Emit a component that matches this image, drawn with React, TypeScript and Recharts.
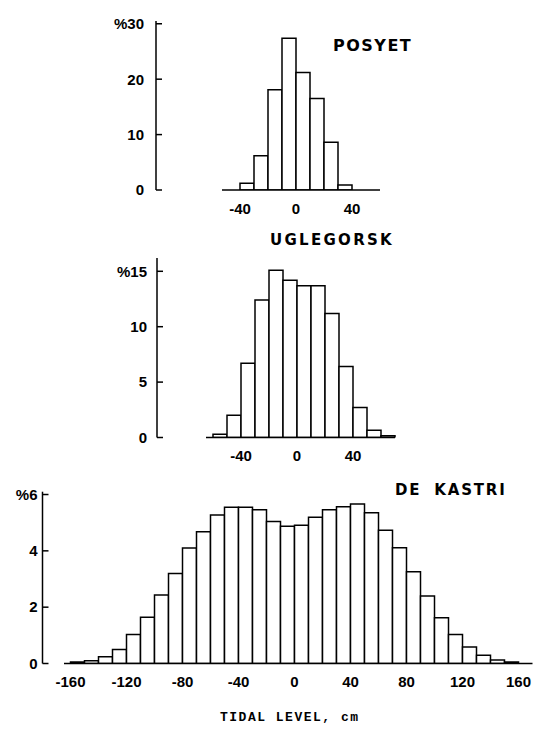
import React from 'react';
import { BarChart, Bar, XAxis, YAxis } from 'recharts';

// POSYET (bins: [start, start+10] cm, % frequency)
const posyetBinStarts = [-50, -40, -30, -20, -10, 0, 10, 20, 30, 40, 50];
const posyetValues = [0, 1.2, 6.2, 18.1, 27.4, 21.2, 16.5, 8.6, 0.9, 0, 0];
const posyetTicksX = [-40, 0, 40];
const posyetTicksY = [0, 10, 20, 30];

// UGLEGORSK
const uglegorskBinStarts = [-60, -50, -40, -30, -20, -10, 0, 10, 20, 30, 40, 50, 60];
const uglegorskValues = [0.3, 2.0, 6.7, 12.4, 15.1, 14.2, 13.7, 13.7, 11.2, 6.4, 2.7, 0.65, 0.15];
const uglegorskTicksX = [-40, 0, 40];
const uglegorskTicksY = [0, 5, 10, 15];

// DE KASTRI
const deKastriBinStarts = [
  -160, -150, -140, -130, -120, -110, -100, -90, -80, -70, -60, -50, -40, -30, -20, -10,
  0, 10, 20, 30, 40, 50, 60, 70, 80, 90, 100, 110, 120, 130, 140, 150, 160,
];
const deKastriValues = [
  0.05, 0.1, 0.24, 0.5, 1.03, 1.64, 2.43, 3.2, 4.1, 4.68, 5.27, 5.55, 5.55, 5.46, 5.04, 4.87,
  4.91, 5.19, 5.46, 5.57, 5.66, 5.35, 4.73, 4.11, 3.26, 2.4, 1.62, 1.03, 0.59, 0.29, 0.12, 0.05, 0,
];
const deKastriTicksX = [-160, -120, -80, -40, 0, 40, 80, 120, 160];
const deKastriTicksY = [0, 2, 4, 6];

const titles = ['POSYET', 'UGLEGORSK', 'DE KASTRI'];
const xAxisTitle = 'TIDAL LEVEL, cm';

const FONT = '"Liberation Sans", Arial, sans-serif';
const TITLE_FONT = '"DejaVu Sans", sans-serif';
const tickStyle = { fill: '#000', fontSize: 15, fontWeight: 'bold' as const, fontFamily: FONT };

// label drawn at the left edge of the bin whose start equals the tick value
function EdgeTick(props: any) {
  const { x, y, payload } = props;
  const off = payload && typeof payload.offset === 'number' ? payload.offset : 0;
  return (
    <text
      x={x - off}
      y={y}
      dy="0.71em"
      textAnchor="middle"
      fill={tickStyle.fill}
      fontSize={tickStyle.fontSize}
      fontWeight={tickStyle.fontWeight}
      fontFamily={tickStyle.fontFamily}
    >
      {String(payload.value)}
    </text>
  );
}

type HistProps = {
  top: number;
  height: number;
  plotTop: number;
  plotBottom: number;
  plotLeft: number;
  plotRight: number;
  padLeft: number;
  yAxisX: number;
  yAxisWidth: number;
  yTickMargin: number;
  binStarts: number[];
  values: number[];
  xTicks: number[];
  yDomain: [number, number];
  yTicks: number[];
  yTopLabel: number;
};

function Hist(p: HistProps) {
  const data = p.binStarts.map((s, i) => ({ bin: s, value: p.values[i] }));
  const xAxisHeight = 30;
  return (
    <div style={{ position: 'absolute', left: 0, top: p.top, width: 533, height: p.height }}>
      {/* histogram */}
      <div style={{ position: 'absolute', left: 0, top: 0 }}>
        <BarChart
          width={533}
          height={p.height}
          data={data}
          margin={{
            top: p.plotTop,
            bottom: p.height - p.plotBottom - xAxisHeight,
            left: p.plotLeft,
            right: 533 - p.plotRight,
          }}
          barCategoryGap={0}
          barGap={0}
        >
          <XAxis
            dataKey="bin"
            type="category"
            ticks={p.xTicks}
            interval={0}
            padding={{ left: p.padLeft, right: 0 }}
            height={xAxisHeight}
            axisLine={{ stroke: '#000', strokeWidth: 1.5 }}
            tickLine={false}
            tickSize={0}
            tickMargin={13}
            tick={<EdgeTick />}
          />
          <YAxis type="number" domain={p.yDomain} allowDataOverflow hide />
          <Bar dataKey="value" fill="#fff" stroke="#000" strokeWidth={1.5} isAnimationActive={false} />
        </BarChart>
      </div>
      {/* detached vertical axis */}
      <div style={{ position: 'absolute', left: 0, top: 0 }}>
        <BarChart
          width={533}
          height={p.height}
          data={data}
          margin={{
            top: p.plotTop,
            bottom: p.height - p.plotBottom,
            left: p.yAxisX - p.yAxisWidth,
            right: 533 - p.yAxisX - 10,
          }}
        >
          <XAxis dataKey="bin" hide />
          <YAxis
            type="number"
            domain={p.yDomain}
            ticks={p.yTicks}
            allowDataOverflow
            width={p.yAxisWidth}
            interval={0}
            axisLine={{ stroke: '#000', strokeWidth: 1.5 }}
            tickLine={{ stroke: '#000', strokeWidth: 1.5 }}
            tickSize={-6}
            tickMargin={p.yTickMargin}
            tick={tickStyle}
            tickFormatter={(v: number) => (v === p.yTopLabel ? '%' + v : String(v))}
          />
          <Bar dataKey="value" hide isAnimationActive={false} />
        </BarChart>
      </div>
    </div>
  );
}

export default function App() {
  return (
    <div style={{ position: 'absolute', left: 0, top: 0, width: 533, height: 732, background: '#fff', overflow: 'hidden' }}>
      <Hist
        top={0}
        height={225}
        plotTop={21}
        plotBottom={190}
        plotLeft={222}
        plotRight={380}
        padLeft={4}
        yAxisX={156}
        yAxisWidth={60}
        yTickMargin={18}
        binStarts={posyetBinStarts}
        values={posyetValues}
        xTicks={posyetTicksX}
        yDomain={[0, 30.5]}
        yTicks={posyetTicksY}
        yTopLabel={30}
      />
      <Hist
        top={230}
        height={240}
        plotTop={28}
        plotBottom={207.5}
        plotLeft={206}
        plotRight={395}
        padLeft={7}
        yAxisX={157}
        yAxisWidth={60}
        yTickMargin={16}
        binStarts={uglegorskBinStarts}
        values={uglegorskValues}
        xTicks={uglegorskTicksX}
        yDomain={[0, 16.2]}
        yTicks={uglegorskTicksY}
        yTopLabel={15}
      />
      <Hist
        top={470}
        height={230}
        plotTop={21.7}
        plotBottom={193.5}
        plotLeft={64}
        plotRight={532.5}
        padLeft={6.5}
        yAxisX={42.5}
        yAxisWidth={40}
        yTickMargin={11}
        binStarts={deKastriBinStarts}
        values={deKastriValues}
        xTicks={deKastriTicksX}
        yDomain={[0, 6.1]}
        yTicks={deKastriTicksY}
        yTopLabel={6}
      />
      <svg
        width={533}
        height={732}
        style={{ position: 'absolute', left: 0, top: 0, pointerEvents: 'none' }}
      >
        <text x={333} y={51} fontFamily={TITLE_FONT} fontWeight="bold" fontSize={16} letterSpacing={1.5} fill="#000">
          {titles[0]}
        </text>
        <text x={270} y={245} fontFamily={TITLE_FONT} fontWeight="bold" fontSize={15} letterSpacing={2.3} fill="#000">
          {titles[1]}
        </text>
        <text x={395} y={495} fontFamily={TITLE_FONT} fontWeight="bold" fontSize={15} letterSpacing={1.8} wordSpacing={6} fill="#000">
          {titles[2]}
        </text>
        <text x={220} y={721} fontFamily='"Liberation Mono", monospace' fontWeight="bold" fontSize={13} letterSpacing={1.5} fill="#000">
          {xAxisTitle}
        </text>
      </svg>
    </div>
  );
}
